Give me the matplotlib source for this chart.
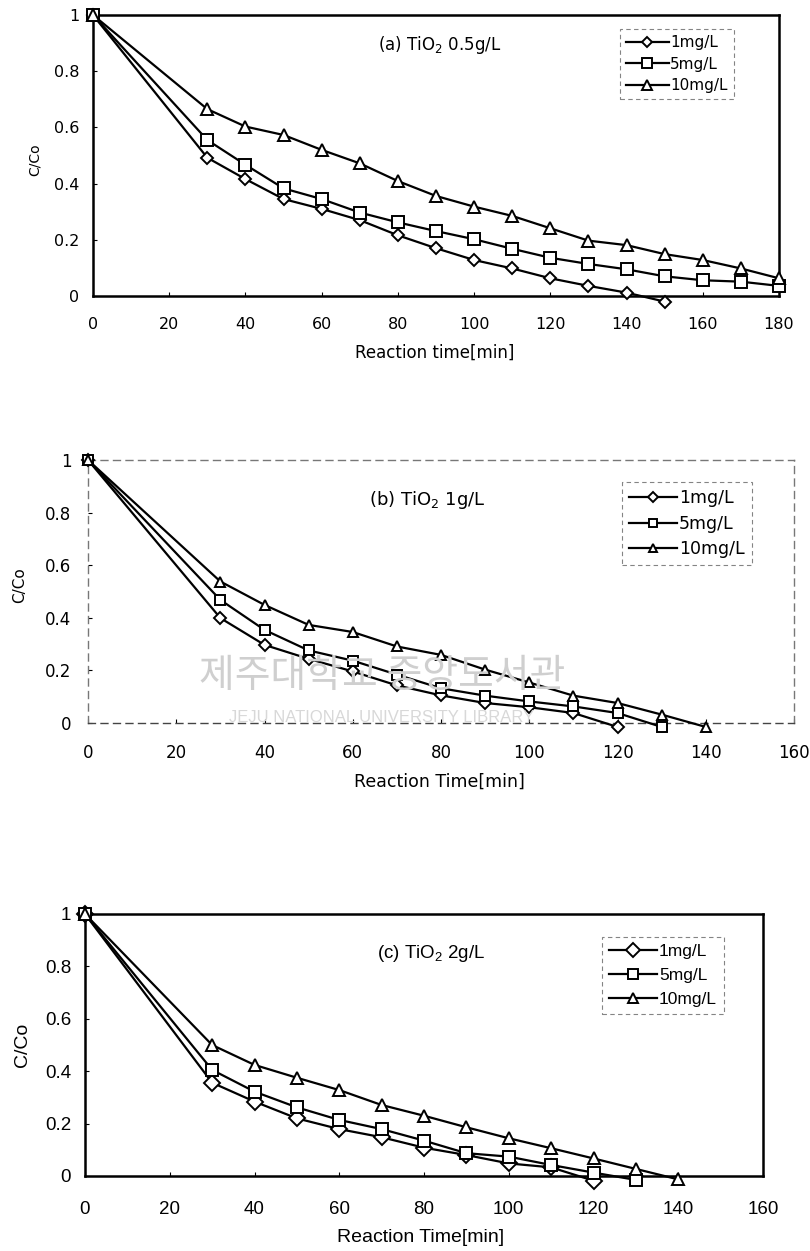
import matplotlib
matplotlib.use("Agg")
import matplotlib.pyplot as plt
from matplotlib.lines import Line2D

plt.rcParams['font.family'] = ['DejaVu Sans']
plt.rcParams['mathtext.fontset'] = 'custom'
plt.rcParams['mathtext.rm'] = 'DejaVu Sans'
plt.rcParams['mathtext.default'] = 'regular'

# ---------------- data ----------------
labels = ["1mg/L", "5mg/L", "10mg/L"]
markers = ["D", "s", "^"]

# (a) TiO2 0.5 g/L
t_a1 = [0, 30, 40, 50, 60, 70, 80, 90, 100, 110, 120, 130, 140, 150]
c_a1 = [1.0, 0.492, 0.416, 0.345, 0.31, 0.27, 0.216, 0.17, 0.128, 0.098, 0.063, 0.036, 0.012, -0.02]
t_a2 = [0, 30, 40, 50, 60, 70, 80, 90, 100, 110, 120, 130, 140, 150, 160, 170, 180]
c_a2 = [1.0, 0.555, 0.467, 0.383, 0.345, 0.297, 0.262, 0.231, 0.202, 0.168, 0.136, 0.114, 0.095, 0.07, 0.056, 0.051, 0.036]
t_a3 = [0, 30, 40, 50, 60, 70, 80, 90, 100, 110, 120, 130, 140, 150, 160, 170, 180]
c_a3 = [1.0, 0.665, 0.603, 0.573, 0.52, 0.472, 0.409, 0.356, 0.318, 0.285, 0.241, 0.197, 0.181, 0.149, 0.128, 0.098, 0.063]

# (b) TiO2 1 g/L
t_b1 = [0, 30, 40, 50, 60, 70, 80, 90, 100, 110, 120]
c_b1 = [1.0, 0.399, 0.297, 0.244, 0.196, 0.143, 0.105, 0.076, 0.06, 0.038, -0.015]
t_b2 = [0, 30, 40, 50, 60, 70, 80, 90, 100, 110, 120, 130]
c_b2 = [1.0, 0.468, 0.354, 0.276, 0.237, 0.184, 0.132, 0.104, 0.082, 0.063, 0.038, -0.015]
t_b3 = [0, 30, 40, 50, 60, 70, 80, 90, 100, 110, 120, 130, 140]
c_b3 = [1.0, 0.538, 0.449, 0.373, 0.346, 0.291, 0.259, 0.203, 0.154, 0.104, 0.076, 0.032, -0.015]

# (c) TiO2 2 g/L
t_c1 = [0, 30, 40, 50, 60, 70, 80, 90, 100, 110, 120]
c_c1 = [1.0, 0.356, 0.284, 0.22, 0.179, 0.148, 0.108, 0.08, 0.048, 0.033, -0.018]
t_c2 = [0, 30, 40, 50, 60, 70, 80, 90, 100, 110, 120, 130]
c_c2 = [1.0, 0.405, 0.322, 0.262, 0.214, 0.179, 0.135, 0.087, 0.074, 0.042, 0.013, -0.015]
t_c3 = [0, 30, 40, 50, 60, 70, 80, 90, 100, 110, 120, 130, 140]
c_c3 = [1.0, 0.5, 0.424, 0.375, 0.328, 0.271, 0.23, 0.186, 0.144, 0.106, 0.067, 0.027, -0.013]

xticks_a = [0, 20, 40, 60, 80, 100, 120, 140, 160, 180]
xticks_bc = [0, 20, 40, 60, 80, 100, 120, 140, 160]
yticks = [0, 0.2, 0.4, 0.6, 0.8, 1]
ytick_labels = ["0", "0.2", "0.4", "0.6", "0.8", "1"]

W, H = 810, 1251
fig = plt.figure(figsize=(W / 100, H / 100), dpi=100)


def box(l, r, t, b):
    return [l / W, 1 - b / H, (r - l) / W, (b - t) / H]


def fx(x):
    return x / W


def fy(y):
    return 1 - y / H


DJ = ['DejaVu Sans']
LIB = ['Liberation Sans', 'DejaVu Sans']

panels = [
    dict(rect=box(93, 779, 15, 296), series=[(t_a1, c_a1), (t_a2, c_a2), (t_a3, c_a3)],
         xmax=180, xticks=xticks_a, title=r"(a) TiO$_2$ 0.5g/L", title_xy=(440, 45),
         xlabel="Reaction time[min]", xlabel_xy=(435, 353), ylabel_xy=(35, 160),
         leg_anchor=(0.768, 0.95), tick_fs=11.5, lab_fs=12, ylab_fs=10, leg_fs=11, title_fs=12,
         frame='solid', xpad=15, ypad=10, family=DJ, ms=(6.5, 8, 8), lsp=0.42),
    dict(rect=box(88, 794, 460, 723), series=[(t_b1, c_b1), (t_b2, c_b2), (t_b3, c_b3)],
         xmax=160, xticks=xticks_bc, title=r"(b) TiO$_2$ 1g/L", title_xy=(427, 500),
         xlabel="Reaction Time[min]", xlabel_xy=(439, 782), ylabel_xy=(20, 585),
         leg_anchor=(0.756, 0.915), tick_fs=12, lab_fs=12.5, ylab_fs=11, leg_fs=12.5, title_fs=13,
         frame='dashed', xpad=15, ypad=12, family=DJ, ms=(6.5, 7.5, 7.5), lsp=0.42),
    dict(rect=box(85, 763, 914, 1176), series=[(t_c1, c_c1), (t_c2, c_c2), (t_c3, c_c3)],
         xmax=160, xticks=xticks_bc, title=r"(c) TiO$_2$ 2g/L", title_xy=(431, 953),
         xlabel="Reaction Time[min]", xlabel_xy=(421, 1237), ylabel_xy=(22, 1045),
         leg_anchor=(0.762, 0.912), tick_fs=13.5, lab_fs=14, ylab_fs=14, leg_fs=12.5, title_fs=13.5,
         frame='solid', xpad=18, ypad=10, family=LIB, ms=(8, 9, 9), lsp=0.5),
]

# watermark (panel b)
fig.text(fx(382), fy(676), "제주대학교 중앙도서관", fontsize=28, color='#cfcfcf',
         ha='center', va='center', family=['Noto Sans CJK KR', 'DejaVu Sans'], zorder=0)
fig.text(fx(382), fy(717), "JEJU NATIONAL UNIVERSITY LIBRARY", fontsize=12, color='#d8d8d8',
         ha='center', va='center', family=LIB, zorder=0)

for p in panels:
    ax = fig.add_axes(p['rect'])
    ax.set_xlim(0, p['xmax'])
    ax.set_ylim(0, 1)
    ax.patch.set_alpha(0)
    for (t, c), m, lab, ms in zip(p['series'], markers, labels, p['ms']):
        ax.plot(t, c, color='black', lw=1.6, marker=m, ms=ms, mfc='white', mec='black',
                mew=1.4, label=lab, clip_on=False, zorder=3)
    ax.set_xticks(p['xticks'])
    ax.set_xticklabels([str(v) for v in p['xticks']], family=p['family'])
    ax.set_yticks(yticks)
    ax.set_yticklabels(ytick_labels, family=p['family'])
    ax.tick_params(axis='x', direction='in', length=3, width=0.8, labelsize=p['tick_fs'], pad=p['xpad'])
    ax.tick_params(axis='y', direction='in', length=3, width=0.8, labelsize=p['tick_fs'], pad=p['ypad'])
    for s in ax.spines.values():
        if p['frame'] == 'solid':
            s.set_linewidth(1.8)
            s.set_color('black')
        else:
            s.set_linewidth(1.0)
            s.set_color('#777777')
            s.set_linestyle((0, (5, 4)))
    if p['frame'] == 'dashed':
        ax.spines['bottom'].set_color('#444444')

    fig.text(fx(p['title_xy'][0]), fy(p['title_xy'][1]), p['title'], ha='center', va='center',
             fontsize=p['title_fs'], family=p['family'])
    fig.text(fx(p['xlabel_xy'][0]), fy(p['xlabel_xy'][1]), p['xlabel'], ha='center', va='center',
             fontsize=p['lab_fs'], family=p['family'])
    fig.text(fx(p['ylabel_xy'][0]), fy(p['ylabel_xy'][1]), "C/Co", ha='center', va='center',
             rotation=90, fontsize=p['ylab_fs'], family=p['family'])

    handles = [Line2D([], [], color='black', lw=1.6, marker=m, ms=ms * 0.85, mfc='white',
                      mec='black', mew=1.4) for m, ms in zip(markers, p['ms'])]
    leg = ax.legend(handles, labels, loc='upper left', bbox_to_anchor=p['leg_anchor'],
                    frameon=True, fancybox=False, handlelength=2.8, handletextpad=0.1,
                    labelspacing=p['lsp'], borderpad=0.4, borderaxespad=0,
                    prop={'family': p['family'], 'size': p['leg_fs']})
    fr = leg.get_frame()
    fr.set_edgecolor('#666666')
    fr.set_linewidth(0.8)
    fr.set_linestyle((0, (4, 3)))

fig.savefig("out.png", dpi=100, facecolor='white')
